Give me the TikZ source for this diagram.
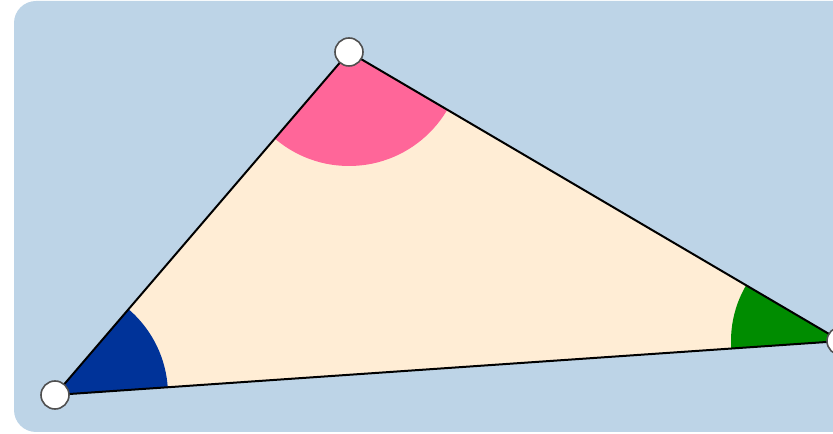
\documentclass[tikz,border=0pt]{standalone}
\definecolor{bgblue}{RGB}{189,212,231}
\definecolor{trifill}{RGB}{255,237,213}
\definecolor{angA}{RGB}{0,51,153}
\definecolor{angB}{RGB}{255,102,153}
\definecolor{angC}{RGB}{0,140,0}
\definecolor{ptborder}{RGB}{80,80,80}
\tikzset{
  edge/.style={draw=black,line width=1.5pt},
  vertex/.style={circle,fill=white,draw=ptborder,line width=1.2pt,minimum size=21pt,inner sep=0pt},
}
\begin{document}
\begin{tikzpicture}[x=0.75pt,y=-0.75pt]
\useasboundingbox (0,0) rectangle (833,434);
\clip (0,0) rectangle (833,434);
\fill[bgblue,rounded corners=16.5pt] (14,1) rectangle (880,432);
\coordinate (A) at (55,395);
\coordinate (B) at (349,52);
\coordinate (C) at (841,341);
\fill[trifill] (A) -- (B) -- (C) -- cycle;
\begin{scope}
\clip (A) -- (B) -- (C) -- cycle;
\fill[angA] (A) circle[radius=113];
\fill[angB] (B) circle[radius=114];
\fill[angC] (C) circle[radius=110];
\end{scope}
\draw[edge,line join=round] (A) -- (B) -- (C) -- cycle;
\node[vertex] (a) at (A) {};
\node[vertex] (b) at (B) {};
\node[vertex] (c) at (C) {};
\end{tikzpicture}
\end{document}
